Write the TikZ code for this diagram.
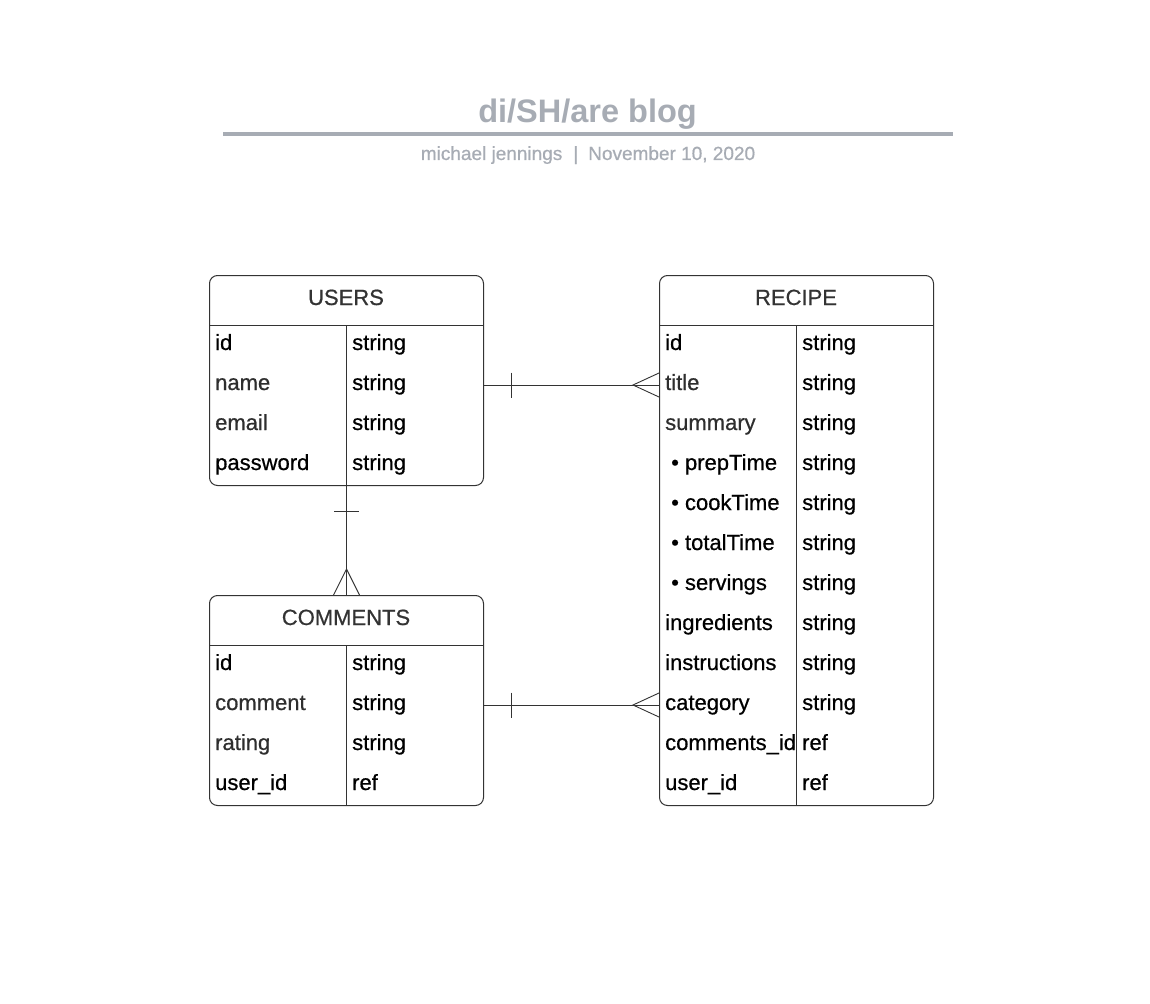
\documentclass[tikz,border=0pt]{standalone}
\usepackage{fontspec}
\setmainfont{Liberation Sans}
\newfontfamily\heavyfont[FakeBold=0.6]{Liberation Sans}
\definecolor{ttlgray}{HTML}{A7ACB4}
\definecolor{edge}{HTML}{333333}
\definecolor{hdr}{HTML}{333333}
\definecolor{soft}{HTML}{2E2E2E}
\tikzset{
  tbl/.style={draw=edge, line width=1pt, rounded corners=8pt, anchor=north west, minimum width=274pt, minimum height=#1, inner sep=0pt},
  rule/.style={draw=edge, line width=1pt},
  hdrtxt/.style={anchor=base, inner sep=0pt, text=hdr, font=\heavyfont\fontsize{22}{22}\selectfont},
  fld/.style={anchor=base west, inner sep=0pt, text=black, font=\heavyfont\fontsize{22}{22}\selectfont},
  conn/.style={draw=edge, line width=0.9pt},
}
\begin{document}
\begin{tikzpicture}[x=1pt,y=-1pt]
\path[fill=white,use as bounding box] (0,0) rectangle (1150,1003);
% title block
\node[anchor=base, text=ttlgray, font=\bfseries\fontsize{32.5}{33}\selectfont, inner sep=0pt] (title) at (587.5,123) {di/SH/are blog};
\coordinate (rl) at (223,134);
\coordinate (rr) at (953,134);
\draw[ttlgray, line width=3.5pt] (rl) -- (rr);
\node[anchor=base, text=ttlgray, font=\heavyfont\fontsize{19}{19}\selectfont, inner sep=0pt] (sub) at (588,160) {michael jennings\hspace{11pt}|\hspace{10pt}November 10, 2020};

% tables
\node[tbl=210pt] (users) at (209,275) {};
\node[tbl=210pt] (comments) at (209,595) {};
\node[tbl=530pt] (recipe) at (659,275) {};

\foreach \t in {users,comments,recipe}{
  \draw[rule] ([yshift=-50pt]\t.north west) -- ([yshift=-50pt]\t.north east);
  \draw[rule] ([xshift=137pt,yshift=-50pt]\t.north west) -- ([xshift=137pt]\t.south west);
}

\node[hdrtxt] (users-h) at (346,305) {USERS};
\node[hdrtxt] (comments-h) at (346,625) {COMMENTS};
\node[hdrtxt] (recipe-h) at (796,305) {RECIPE};

\foreach \f/\t [count=\i from 0] in {id/string, {\color{soft}name}/string, {\color{soft}email}/string, password/string}{
  \node[fld] (users-f\i) at (215,350+40*\i) {\f};
  \node[fld] (users-t\i) at (352,350+40*\i) {\t};
}
\foreach \f/\t [count=\i from 0] in {id/string, {\color{soft}comment}/string, {\color{soft}rating}/string, user\_id/ref}{
  \node[fld] (comments-f\i) at (215,670+40*\i) {\f};
  \node[fld] (comments-t\i) at (352,670+40*\i) {\t};
}
\foreach \f/\t [count=\i from 0] in {id/string, {\color{soft}title}/string, {\color{soft}summary}/string,
  {\hspace{6pt}• prepTime}/string, {\hspace{6pt}• cookTime}/string,
  {\hspace{6pt}• totalTime}/string, {\hspace{6pt}• servings}/string,
  ingredients/string, instructions/string, category/string,
  comments\_id/ref, user\_id/ref}{
  \node[fld] (recipe-f\i) at (665,350+40*\i) {\f};
  \node[fld] (recipe-t\i) at (802,350+40*\i) {\t};
}

% connectors
\coordinate (c1a) at ([yshift=-110pt]users.north east);
\coordinate (c1b) at ([yshift=-110pt]recipe.north west);
\draw[conn] (c1a) -- (c1b);
\draw[conn] ([xshift=27pt,yshift=12.5pt]c1a) -- ([xshift=27pt,yshift=-12.5pt]c1a);
\draw[conn] ([yshift=12pt]c1b) -- ([xshift=-26pt]c1b) -- ([yshift=-12pt]c1b);

\coordinate (c2a) at (users.south);
\coordinate (c2b) at (comments.north);
\draw[conn] (c2a) -- (c2b);
\draw[conn] ([xshift=-12.5pt,yshift=-25pt]c2a) -- ([xshift=12.5pt,yshift=-25pt]c2a);
\draw[conn] ([xshift=-13pt]c2b) -- ([yshift=26pt]c2b) -- ([xshift=13pt]c2b);

\coordinate (c3a) at ([yshift=-110pt]comments.north east);
\coordinate (c3b) at ([yshift=-430pt]recipe.north west);
\draw[conn] (c3a) -- (c3b);
\draw[conn] ([xshift=27pt,yshift=12.5pt]c3a) -- ([xshift=27pt,yshift=-12.5pt]c3a);
\draw[conn] ([yshift=12pt]c3b) -- ([xshift=-26pt]c3b) -- ([yshift=-12pt]c3b);
\end{tikzpicture}
\end{document}
